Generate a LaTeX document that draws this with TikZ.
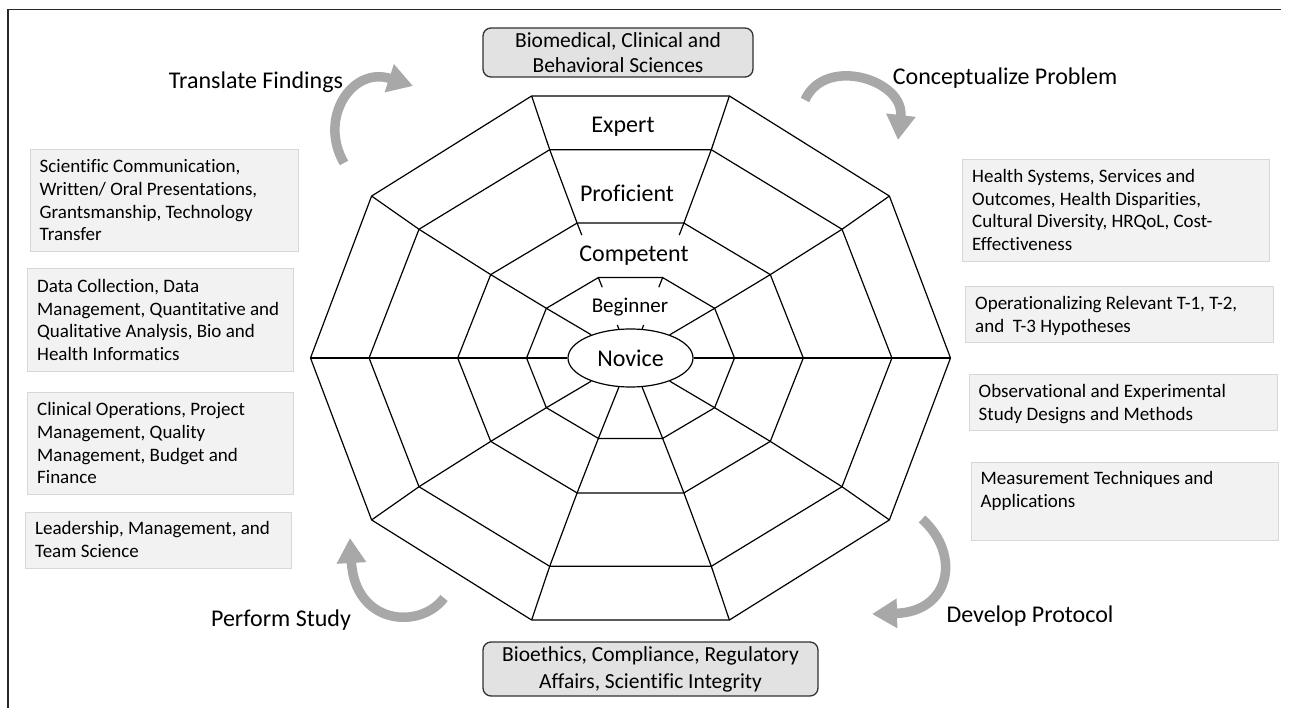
\documentclass[tikz,border=0pt]{standalone}
\usepackage{fontspec}
\setmainfont{Carlito}[Ligatures=NoCommon]
\usetikzlibrary{shapes.geometric,calc,arrows.meta}
\begin{document}
\begin{tikzpicture}[x=1pt,y=-1pt,
  web/.style={line width=1.2pt, draw=black},
  frameline/.style={line width=1.5pt, draw={rgb,255:red,40;green,40;blue,40}},
  sbox/.style={draw={rgb,255:red,215;green,215;blue,215}, fill={rgb,255:red,242;green,242;blue,242}, line width=1pt, inner sep=0pt, anchor=north west},
  stext/.style={anchor=north west, inner sep=0pt, align=left, font=\fontsize{19}{22.7}\selectfont},
  cbox/.style={draw={rgb,255:red,50;green,50;blue,50}, fill={rgb,255:red,226;green,226;blue,226}, rounded corners=8pt, line width=1.3pt, align=center, inner sep=0pt},
  lvl/.style={font=\fontsize{24}{28}\selectfont, inner sep=0pt},
  phase/.style={font=\fontsize{24}{28}\selectfont, inner sep=0pt},
  cyc/.style={line width=9.5pt, draw={rgb,255:red,168;green,168;blue,168}, -{Triangle[length=25pt,width=28pt]}}
]
\useasboundingbox (0,0) rectangle (1293,708);

% frame
\draw[frameline] (1281,9.5) -- (8,9.5) -- (8,708);

% web geometry
\coordinate (C) at (630.5,358);
\foreach \ri/\fx/\fy in {1/1/1, 2/0.817/0.795, 3/0.54/0.515, 4/0.325/0.307} {
  \foreach \k in {0,...,9} {
    \coordinate (r\ri v\k) at ({630.5+\fx*320*cos(36*\k)}, {358-\fy*275.5*sin(36*\k)});
  }
  \draw[web] (r\ri v0) -- (r\ri v1) -- (r\ri v2) -- (r\ri v3) -- (r\ri v4) -- (r\ri v5) -- (r\ri v6) -- (r\ri v7) -- (r\ri v8) -- (r\ri v9) -- cycle;
}

% centre ellipse
\node[ellipse, web, fill=white, minimum width=125pt, minimum height=58pt, inner sep=0pt, font=\fontsize{24}{28}\selectfont] (nov) at (C) {Novice};

% spokes
\foreach \k in {0,1,4,5,6,7,8,9} {
  \draw[web] (r1v\k) -- (r2v\k) -- (r3v\k) -- (r4v\k) -- (nov);
}
\foreach \k in {2,3} {
  \draw[web] (r1v\k) -- (r2v\k) -- (r3v\k) -- ($(r3v\k)!0.22!(r4v\k)$);
  \draw[web] (r4v\k) -- ($(r4v\k)!0.12!(C)$);
  \draw[web] ($(C)!0.41!(r4v\k)$) -- (nov);
}

% level labels
\node[lvl] (exp) at (623,127) {Expert};
\node[lvl] (pro) at (627,193) {Proficient};
\node[lvl] (com) at (634,256) {Competent};
\node[lvl, font=\fontsize{21}{25}\selectfont] (beg) at (630,307) {Beginner};

% top and bottom boxes
\node[cbox, minimum width=270pt, minimum height=49pt, font=\fontsize{21.5}{25}\selectfont] (bio) at (618,52.5) {Biomedical, Clinical and\\Behavioral Sciences};
\node[cbox, minimum width=335pt, minimum height=54pt, font=\fontsize{21.5}{27}\selectfont] (eth) at (650.5,669) {Bioethics, Compliance, Regulatory\\Affairs, Scientific Integrity};

% phase labels
\node[phase] (tf) at (256,82) {Translate Findings};
\node[phase] (cp) at (1005,78) {Conceptualize Problem};
\node[phase] (ps) at (281,620) {Perform Study};
\node[phase] (dp) at (1030,616) {Develop Protocol};

% cycle arrows
\coordinate (tfA) at (344,163); \coordinate (tfB) at (413,86);
\draw[cyc] (tfA) .. controls (318,118) and (352,66) .. (tfB);
\coordinate (cpA) at (805,100); \coordinate (cpB) at (898,140);
\draw[cyc] (cpA) .. controls (825,55) and (905,80) .. (cpB);
\coordinate (dpA) at (922,519); \coordinate (dpB) at (872,614);
\draw[cyc] (dpA) .. controls (962,555) and (950,612) .. (dpB);
\coordinate (psA) at (444,598); \coordinate (psB) at (350,538);
\draw[cyc] (psA) .. controls (420,630) and (355,625) .. (psB);

% left boxes
\node[sbox, minimum width=268pt, minimum height=102pt] (l1) at (30,149) {};
\node[stext] (l1t) at ([shift={(9.5,10.5)}]l1.north west) {Scientific Communication,\\Written/ Oral Presentations,\\Grantsmanship, Technology\\Transfer};
\node[sbox, minimum width=266pt, minimum height=103pt] (l2) at (27,268) {};
\node[stext] (l2t) at ([shift={(10,11)}]l2.north west) {Data Collection, Data\\Management, Quantitative and\\Qualitative Analysis, Bio and\\Health Informatics};
\node[sbox, minimum width=266pt, minimum height=102pt] (l3) at (27,392) {};
\node[stext] (l3t) at ([shift={(10,10.5)}]l3.north west) {Clinical Operations, Project\\Management, Quality\\Management, Budget and\\Finance};
\node[sbox, minimum width=266pt, minimum height=56pt] (l4) at (25,512) {};
\node[stext] (l4t) at ([shift={(10,9.5)}]l4.north west) {Leadership, Management, and\\Team Science};

% right boxes
\node[sbox, minimum width=307pt, minimum height=102pt] (r1) at (962,159) {};
\node[stext] (r1t) at ([shift={(10,10)}]r1.north west) {Health Systems, Services and\\Outcomes, Health Disparities,\\Cultural Diversity, HRQoL, Cost-\\Effectiveness};
\node[sbox, minimum width=308pt, minimum height=56pt] (r2) at (965,286) {};
\node[stext] (r2t) at ([shift={(10,10)}]r2.north west) {Operationalizing Relevant T-1, T-2,\\and\ \ T-3 Hypotheses};
\node[sbox, minimum width=308pt, minimum height=56pt] (r3) at (969,374) {};
\node[stext] (r3t) at ([shift={(9.5,10)}]r3.north west) {Observational and Experimental\\Study Designs and Methods};
\node[sbox, minimum width=307pt, minimum height=78pt] (r4) at (971,462) {};
\node[stext] (r4t) at ([shift={(9.5,9.5)}]r4.north west) {Measurement Techniques and\\Applications};
\end{tikzpicture}
\end{document}
